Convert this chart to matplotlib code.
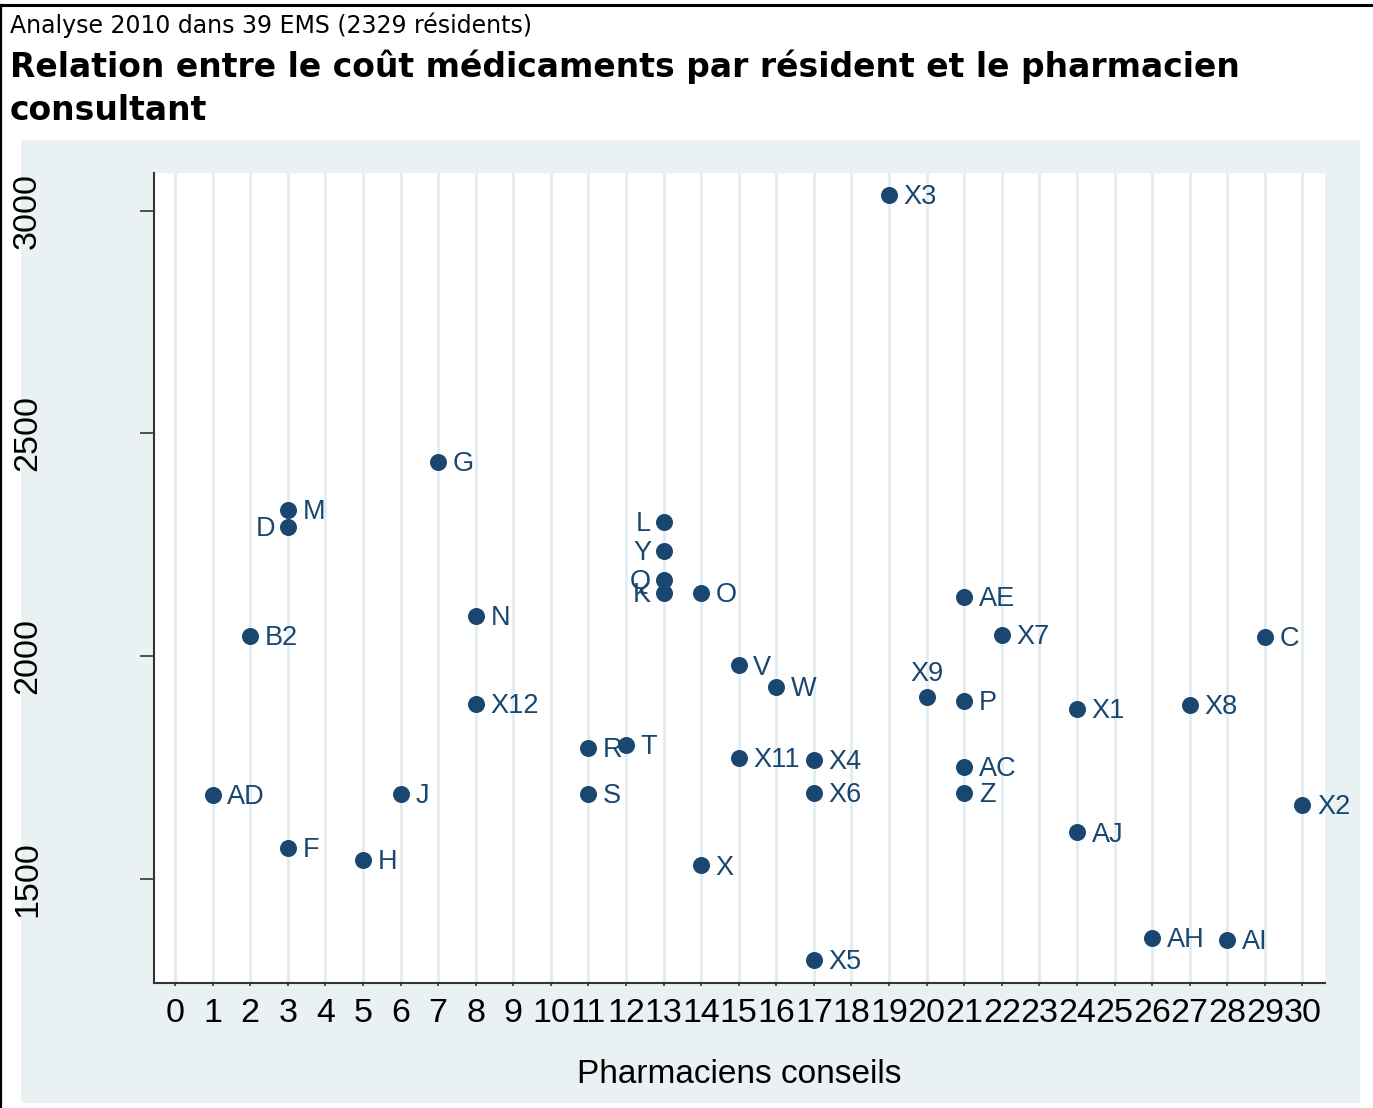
import matplotlib
matplotlib.use('Agg')
import matplotlib.pyplot as plt
from matplotlib.patches import Rectangle
from matplotlib.lines import Line2D

# EMS labels, number of consulting pharmacists, drug cost per resident
ems = ['X3', 'G', 'M', 'D', 'L', 'Y', 'Q', 'K', 'O', 'N', 'B2', 'AE', 'X7',
       'C', 'V', 'W', 'X9', 'P', 'X12', 'X1', 'X8', 'R', 'T', 'X11', 'X4',
       'AC', 'AD', 'J', 'S', 'X6', 'Z', 'X2', 'F', 'AJ', 'H', 'X', 'AH',
       'AI', 'X5']
pharmaciens = [19, 7, 3, 3, 13, 13, 13, 13, 14, 8, 2, 21, 22,
               29, 15, 16, 20, 21, 8, 24, 27, 11, 12, 15, 17,
               21, 1, 6, 11, 17, 21, 30, 3, 24, 5, 14, 26,
               28, 17]
cout = [3036, 2436, 2329, 2291, 2302, 2237, 2172, 2142, 2142, 2091, 2046, 2133, 2048,
        2044, 1979, 1931, 1909, 1900, 1893, 1882, 1891, 1794, 1801, 1772, 1767,
        1752, 1689, 1691, 1691, 1693, 1693, 1666, 1570, 1604, 1543, 1530, 1368,
        1363, 1318]
# label placement: r = right, l = left, t = top
position = ['r', 'r', 'r', 'l', 'l', 'l', 'l', 'l', 'r', 'r', 'r', 'r', 'r',
            'r', 'r', 'r', 't', 'r', 'r', 'r', 'r', 'r', 'r', 'r', 'r',
            'r', 'r', 'r', 'r', 'r', 'r', 'r', 'r', 'r', 'r', 'r', 'r',
            'r', 'r']
xticks = list(range(0, 31))
yticks = [1500, 2000, 2500, 3000]

navy = '#1a476f'
bg = '#eaf1f3'
grid = '#e4edf0'
sans = ['Liberation Sans', 'DejaVu Sans']

fig = plt.figure(figsize=(13.73, 11.08), dpi=100)

# light outer region and frame lines
fig.patches.append(Rectangle((0.0153, 0.0045), 0.9752, 0.8691, transform=fig.transFigure,
                             facecolor=bg, edgecolor='none', zorder=-10))
fig.lines.append(Line2D([0, 1], [0.9955, 0.9955], transform=fig.transFigure, color='black', lw=2.2))
fig.lines.append(Line2D([0.0008, 0.0008], [0, 0.9955], transform=fig.transFigure, color='black', lw=1.6))

fig.text(0.0073, 0.9702, 'Analyse 2010 dans 39 EMS (2329 résidents)', fontsize=17,
         family='DejaVu Sans', va='baseline')
fig.text(0.0073, 0.8917, 'Relation entre le coût médicaments par résident et le pharmacien\nconsultant',
         fontsize=23.8, family='DejaVu Sans', weight='bold', va='baseline', linespacing=1.38)

ax = fig.add_axes([0.1122, 0.1128, 0.8528, 0.7311])
ax.set_facecolor('white')

ax.scatter(pharmaciens, cout, s=150, color=navy, zorder=3, linewidths=0)
for name, xv, yv, pos in zip(ems, pharmaciens, cout, position):
    if pos == 'r':
        ax.annotate(name, (xv, yv), xytext=(10.5, -1.5), textcoords='offset points',
                    ha='left', va='center', fontsize=19.5, color=navy, family=sans)
    elif pos == 'l':
        ax.annotate(name, (xv, yv), xytext=(-9, -1.5), textcoords='offset points',
                    ha='right', va='center', fontsize=19.5, color=navy, family=sans)
    else:
        ax.annotate(name, (xv, yv), xytext=(0, 7), textcoords='offset points',
                    ha='center', va='bottom', fontsize=19.5, color=navy, family=sans)

ax.set_xlim(-0.56, 30.6)
ax.set_ylim(1266, 3085)
ax.set_xticks(xticks)
ax.set_yticks(yticks)
ax.grid(axis='x', color=grid, lw=2.2, zorder=0)
ax.set_axisbelow(True)

for side in ['top', 'right']:
    ax.spines[side].set_visible(False)
for side in ['left', 'bottom']:
    ax.spines[side].set_color('#333333')
    ax.spines[side].set_linewidth(1.5)

ax.tick_params(axis='x', length=2.5, width=1.2, color='#333333', pad=8, labelsize=24.5)
ax.tick_params(axis='y', length=10, width=1.2, color='#333333', pad=70, labelsize=24.5)
for lab in ax.get_xticklabels() + ax.get_yticklabels():
    lab.set_family(sans)
for lab in ax.get_yticklabels():
    lab.set_rotation(90)
    lab.set_va('center')

ax.set_xlabel('Pharmaciens conseils', fontsize=24, family=sans, labelpad=22)

fig.savefig('out.png', dpi=100)
